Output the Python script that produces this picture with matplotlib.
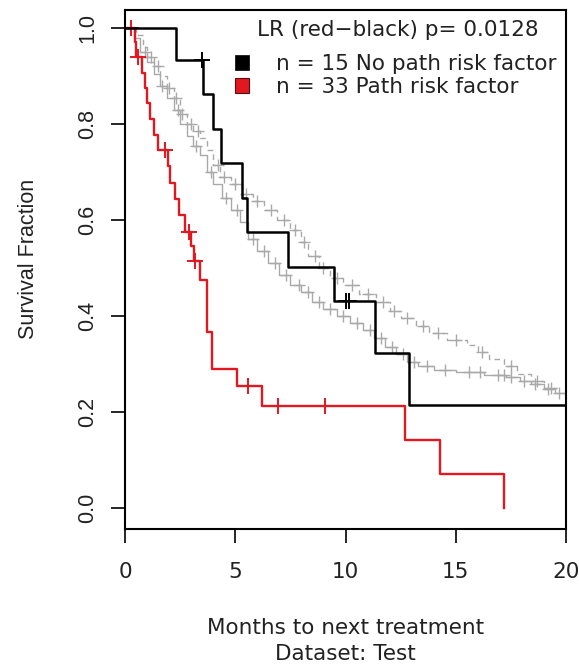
import numpy as np
import matplotlib
matplotlib.use("Agg")
import matplotlib.pyplot as plt
from matplotlib.patches import Patch

plt.rcParams['font.family'] = ['DejaVu Sans']

# --- Kaplan-Meier step curves: (time, survival after step) ---
black_t = [0.0, 2.31, 3.55, 4.0, 4.34, 5.32, 5.52, 7.38, 9.49, 11.34, 12.9, 20.0]
black_s = [1.0, 0.933, 0.862, 0.790, 0.718, 0.646, 0.574, 0.502, 0.431, 0.323, 0.215, 0.215]
black_cens = [3.5, 10.02, 10.14]

red_t = [0.0, 0.45, 0.5, 0.78, 0.9, 1.02, 1.15, 1.3, 1.5, 1.95, 2.05, 2.25, 2.45, 2.7,
         3.0, 3.12, 3.4, 3.7, 3.93, 5.1, 6.2, 12.7, 14.3, 17.2]
red_s = [1.0, 0.970, 0.939, 0.907, 0.875, 0.843, 0.810, 0.778, 0.746, 0.712, 0.678, 0.644,
         0.610, 0.576, 0.545, 0.515, 0.475, 0.367, 0.290, 0.254, 0.212, 0.141, 0.071, 0.0]
red_cens = [0.25, 0.6, 1.8, 2.9, 3.17, 5.6, 6.95, 9.05]

grey_up_t = [0.0, 0.5, 0.8, 1.0, 1.3, 1.6, 1.9, 2.2, 2.5, 2.8, 3.1, 3.4, 3.7, 4.0, 4.3,
             4.8, 5.3, 5.8, 6.3, 6.9, 7.5, 8.0, 8.3, 8.8, 9.3, 9.9, 10.6, 11.4, 12.0,
             12.5, 13.2, 13.8, 14.6, 15.5, 16.0, 16.5, 17.2, 17.8, 18.4, 19.0, 19.6]
grey_up_s = [1.0, 0.985, 0.96, 0.94, 0.92, 0.90, 0.875, 0.855, 0.82, 0.80, 0.785, 0.77,
             0.745, 0.715, 0.69, 0.675, 0.655, 0.64, 0.62, 0.60, 0.58, 0.555, 0.525, 0.50,
             0.48, 0.465, 0.445, 0.43, 0.41, 0.395, 0.38, 0.365, 0.35, 0.34, 0.325, 0.31,
             0.295, 0.28, 0.265, 0.25, 0.25]
grey_up_cens = [1.2, 1.5, 2.0, 2.3, 2.6, 3.0, 3.3, 4.2, 4.5, 5.0, 5.5, 6.0, 6.6, 7.2, 7.7,
                8.1, 8.6, 9.0, 9.6, 10.3, 11.0, 11.7, 12.2, 12.8, 13.5, 14.2, 15.0, 16.2,
                17.5, 18.7, 19.3]

grey_lo_t = [0.0, 0.4, 0.7, 1.0, 1.3, 1.6, 1.9, 2.2, 2.5, 2.8, 3.1, 3.4, 3.7, 4.0, 4.4,
             4.8, 5.2, 5.6, 6.0, 6.5, 7.0, 7.5, 8.0, 8.5, 9.0, 9.6, 10.2, 10.8, 11.3,
             11.8, 12.3, 12.8, 13.3, 14.0, 15.0, 16.3, 17.3, 17.9, 18.4, 19.0, 19.5, 20.0]
grey_lo_s = [1.0, 0.98, 0.95, 0.93, 0.905, 0.88, 0.855, 0.83, 0.80, 0.775, 0.755, 0.735,
             0.70, 0.675, 0.645, 0.62, 0.595, 0.56, 0.535, 0.51, 0.485, 0.465, 0.45, 0.43,
             0.415, 0.40, 0.385, 0.37, 0.355, 0.335, 0.32, 0.305, 0.295, 0.288, 0.283,
             0.278, 0.272, 0.265, 0.258, 0.248, 0.24, 0.24]
grey_lo_cens = [0.9, 1.7, 2.4, 3.2, 3.9, 4.6, 5.1, 5.8, 6.3, 6.8, 7.3, 7.9, 8.3, 8.8, 9.3,
                9.9, 10.5, 11.1, 11.6, 12.1, 12.6, 13.1, 13.7, 14.5, 15.6, 16.1, 16.9,
                17.2, 17.5, 18.1, 18.6, 19.2, 19.7]

x_ticks = [0, 5, 10, 15, 20]
y_ticks = [0.0, 0.2, 0.4, 0.6, 0.8, 1.0]
y_ticklabels = ["0.0", "0.2", "0.4", "0.6", "0.8", "1.0"]

legend_title = "LR (red\u2212black) p= 0.0128"
legend_labels = ["n = 15 No path risk factor", "n = 33 Path risk factor"]

RED = "#e3171f"
GREY = "#a9a9a9"
TXT = "#222222"
FS = 15.5
NARROW = ["Liberation Sans", "DejaVu Sans"]


def surv_at(times, surv, t):
    idx = np.searchsorted(np.asarray(times), np.asarray(t), side="right") - 1
    return np.asarray(surv)[idx]


fig = plt.figure(figsize=(5.79, 6.67), dpi=100)
ax = fig.add_axes([125 / 579, 1 - 529 / 667, (566 - 125) / 579, (529 - 10) / 667])

# reference cohort curves (grey)
ax.step(grey_lo_t, grey_lo_s, where="post", color=GREY, lw=1.0, zorder=1)
ax.plot(grey_lo_cens, surv_at(grey_lo_t, grey_lo_s, grey_lo_cens), ls="none",
        marker="+", ms=9, mew=1.0, color=GREY, zorder=1)
ax.step(grey_up_t, grey_up_s, where="post", color=GREY, lw=1.0, dashes=(4, 3), zorder=1)
ax.plot(grey_up_cens, surv_at(grey_up_t, grey_up_s, grey_up_cens), ls="none",
        marker="+", ms=9, mew=1.0, color=GREY, zorder=1)

# test set groups
ax.step(black_t, black_s, where="post", color="black", lw=1.8, zorder=3)
ax.plot(black_cens, surv_at(black_t, black_s, black_cens), ls="none",
        marker="+", ms=11, mew=1.4, color="black", zorder=3)
ax.step(red_t, red_s, where="post", color=RED, lw=1.7, zorder=2)
ax.plot(red_cens, surv_at(red_t, red_s, red_cens), ls="none",
        marker="+", ms=11, mew=1.4, color=RED, zorder=2)

ax.set_xlim(0, 20)
ax.set_ylim(-0.04375, 1.0375)
ax.set_xticks(x_ticks)
ax.set_xticklabels([str(v) for v in x_ticks])
ax.set_yticks(y_ticks)
ax.set_yticklabels(y_ticklabels, rotation=90, va="center", family=NARROW)
ax.tick_params(axis="both", direction="out", length=10, width=1.2, colors="black",
               labelcolor=TXT, labelsize=FS)
ax.tick_params(axis="x", pad=14)
ax.tick_params(axis="y", pad=9)
for sp in ax.spines.values():
    sp.set_linewidth(1.5)

ax.set_ylabel("Survival Fraction", fontsize=FS, color=TXT, va="center", family=NARROW)
ax.yaxis.set_label_coords(-0.218, 0.52)
ax.set_xlabel("Months to next treatment\nDataset: Test", fontsize=FS, color=TXT,
              linespacing=1.38, va="top")
ax.xaxis.set_label_coords(0.5, -0.172)

# legend: title line plus two filled-square entries
ax.text((398 - 125) / 441, (529 - 30) / 519, legend_title, transform=ax.transAxes,
        ha="center", va="center", fontsize=FS, color=TXT)
handles = [Patch(facecolor="black", edgecolor="black", lw=0.5),
           Patch(facecolor=RED, edgecolor="#551111", lw=0.8)]
leg = ax.legend(handles, legend_labels, loc="upper right",
                bbox_to_anchor=((556 - 125) / 441, (529 - 54) / 519), frameon=False,
                fontsize=FS, handlelength=0.65, handleheight=0.65,
                handletextpad=1.25, labelspacing=0.14, borderpad=0, borderaxespad=0)
for t in leg.get_texts():
    t.set_color(TXT)

fig.savefig("out.png", dpi=100)
